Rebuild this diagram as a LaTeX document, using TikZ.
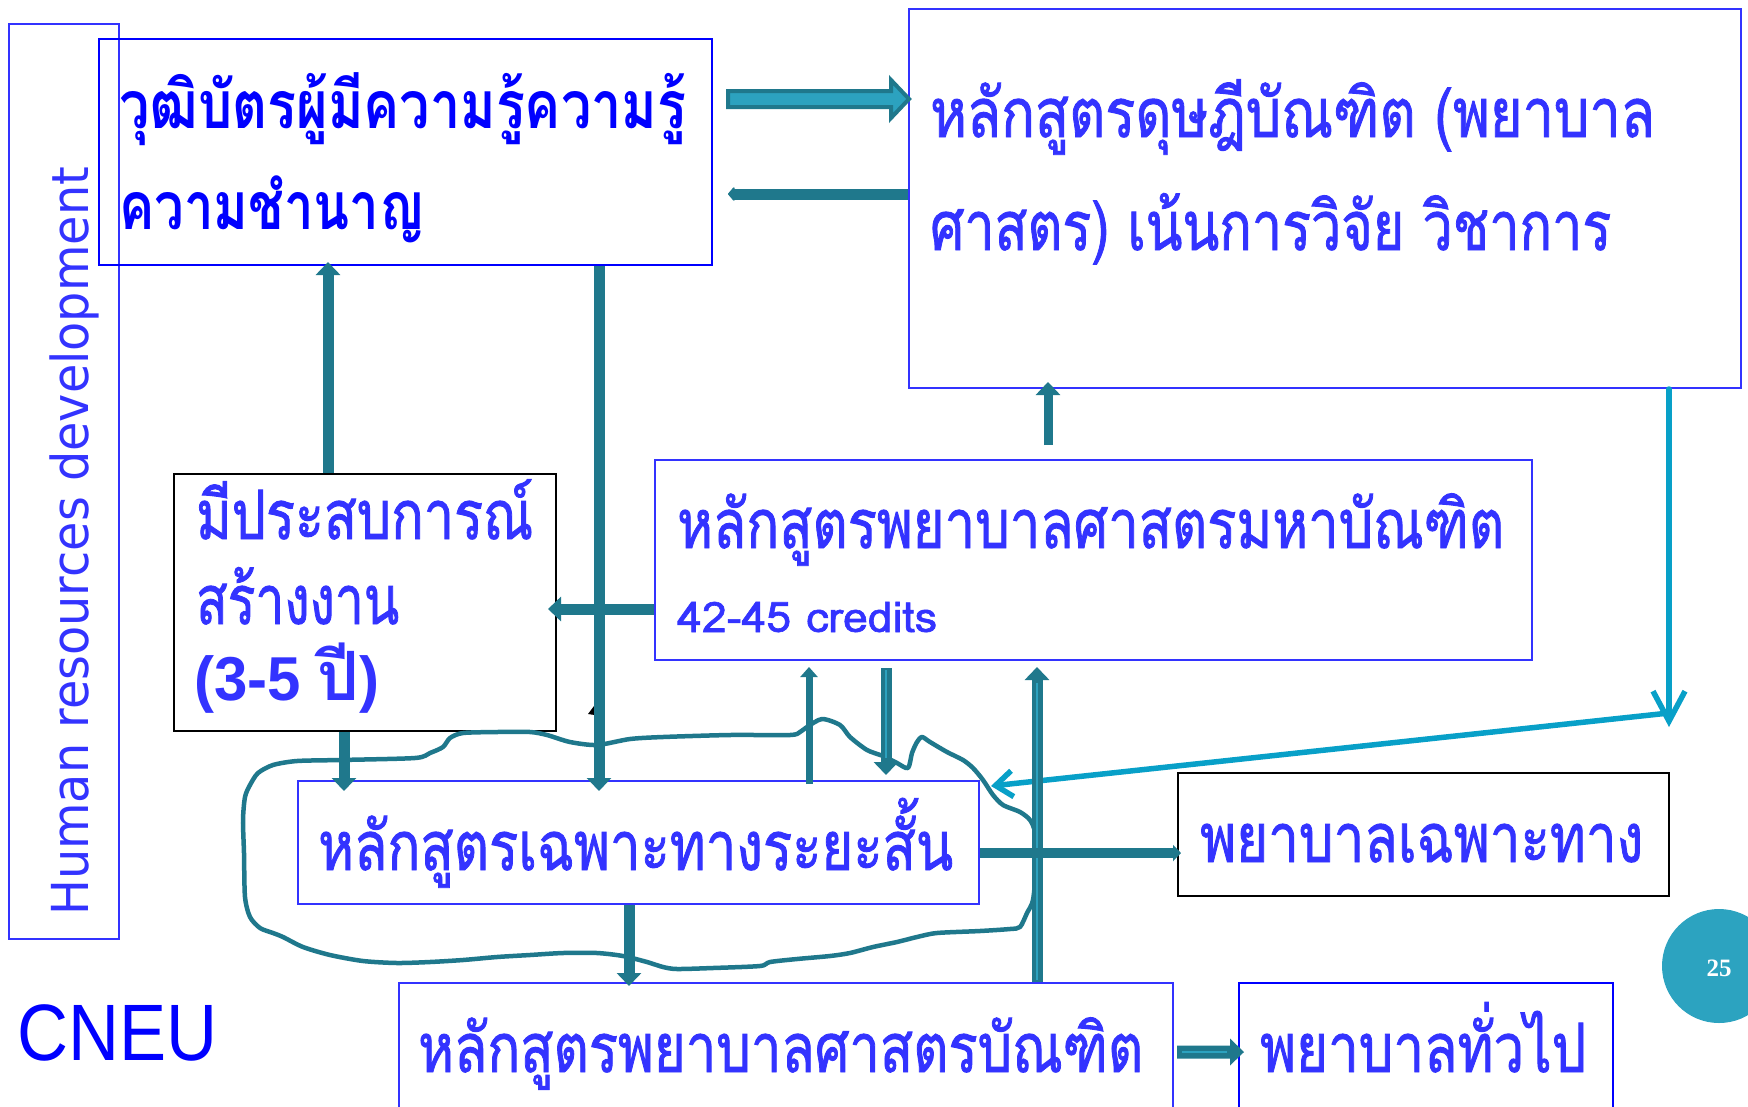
\documentclass[tikz,border=0pt]{standalone}
\usepackage{fontspec}
\usepackage{graphicx}
\usetikzlibrary{arrows.meta,calc}
\newfontfamily\thai[Script=Thai]{Loma}
\newfontfamily\thaim[Script=Thai,FakeBold=1.4]{Loma}
\newfontfamily\dvs{DejaVu Sans}
\newfontfamily\lsans{Liberation Sans}
\newfontfamily\lserif{Liberation Serif}
\definecolor{teal1}{RGB}{31,120,140}
\definecolor{teal2}{RGB}{44,162,191}
\definecolor{cyan1}{RGB}{8,160,200}
\definecolor{tblue}{RGB}{51,51,255}
\definecolor{pblue}{RGB}{0,0,255}
\definecolor{circ}{RGB}{44,163,192}
\newcommand\fw[2]{\resizebox{#1pt}{\height}{#2}}
\begin{document}
\begin{tikzpicture}[x=1pt,y=-1pt,
  box/.style={draw=tblue, line width=2, inner sep=0, rectangle},
  bbox/.style={draw=black, line width=2, inner sep=0, rectangle},
  thaitxt/.style={anchor=base west, inner sep=0, text=tblue, font=\thaim\fontsize{68}{80}\selectfont},
  tarrow/.style={draw=teal1, line width=11, -{Triangle[width=24,length=13]}},
  tthin/.style={draw=teal1, line width=7, -{Triangle[width=17,length=10]}},
  cyanarr/.style={draw=cyan1, line width=5.5, line cap=round, -{Straight Barb[length=30,width=32,line width=5.5]}},
  stripe/.style={draw=teal2, line width=2.5}
]
\useasboundingbox (0,0) rectangle (1748,1106);
\fill[white] (0,0) rectangle (1748,1106);

% boxes
\node[box, minimum width=110, minimum height=915] (L) at (64,481.5) {};
\node[box, draw=pblue, minimum width=613, minimum height=226] (A) at (405.5,152) {};
\node[box, minimum width=832, minimum height=379] (B) at (1325,198.5) {};
\node[bbox, minimum width=382, minimum height=257] (C) at (365,602.5) {};
\node[box, minimum width=877, minimum height=200] (D) at (1093.5,560) {};
\node[box, minimum width=681, minimum height=123] (E) at (638.5,842.5) {};
\node[bbox, minimum width=491, minimum height=123] (F) at (1423.5,834.5) {};
\node[box, minimum width=774, minimum height=142] (G) at (786,1054) {};
\node[box, draw=pblue, minimum width=374, minimum height=142] (H) at (1426,1054) {};

% texts
\node[anchor=base west, inner sep=0, text=tblue, rotate=90, font=\dvs\fontsize{51}{60}\selectfont] (tL) at (88,916) {\fw{749}{Human resources development}};
\node[thaitxt, text=pblue, font=\thai\bfseries\fontsize{66}{78}\selectfont] (tA1) at (119,128) {\fw{567}{วุฒิบัตรผู้มีความรู้ความรู้}};
\node[thaitxt, text=pblue, font=\thai\bfseries\fontsize{66}{78}\selectfont] (tA2) at (119,229) {\fw{305}{ความชำนาญ}};
\node[thaitxt] (tB1) at (930,137) {\fw{725}{หลักสูตรดุษฎีบัณฑิต (พยาบาล}};
\node[thaitxt] (tB2) at (930,250) {\fw{681}{ศาสตร) เน้นการวิจัย วิชาการ}};
\node[thaitxt] (tC1) at (196,539) {\fw{337}{มีประสบการณ์}};
\node[thaitxt] (tC2) at (196,624) {\fw{203}{สร้างงาน}};
\node[thaitxt] (tC3) at (194,700) {\fw{185}{{\lsans\bfseries\fontsize{62}{72}\selectfont(3-5 }{\thai\bfseries ปี}{\lsans\bfseries\fontsize{62}{72}\selectfont)}}};
\node[thaitxt, font=\thaim\fontsize{42}{50}\selectfont] (tD2) at (677,632) {\fw{260}{42-45 credits}};
\node[thaitxt] (tD1) at (677,548) {\fw{827}{หลักสูตรพยาบาลศาสตรมหาบัณฑิต}};
\node[thaitxt] (tE) at (318,870) {\fw{635}{หลักสูตรเฉพาะทางระยะสั้น}};
\node[thaitxt] (tF) at (1200,862) {\fw{443}{พยาบาลเฉพาะทาง}};
\node[thaitxt] (tG) at (418,1072) {\fw{725}{หลักสูตรพยาบาลศาสตรบัณฑิต}};
\node[thaitxt] (tH) at (1260,1072) {\fw{326}{พยาบาลทั่วไป}};
\node[anchor=base west, inner sep=0, text=pblue, font=\lsans\fontsize{80}{92}\selectfont] (cneu) at (17,1060) {\fw{200}{CNEU}};
\fill[circ] (1719,966) circle (57);
\node[text=white, font=\lserif\bfseries\fontsize{25}{30}\selectfont, inner sep=0] (pg) at (1719,968) {25};

% freehand loop around the short course box
\draw[teal1, line width=4.5, line join=round] plot[smooth cycle, tension=0.45] coordinates {(273,765) (297,761) (340,760) (415,758) (430,753) (443,747) (450,738) (463,733) (497,732) (530,732) (547,735) (570,742) (597,745) (630,739) (663,737) (730,735) (790,735) (800,732) (807,727) (822,719) (840,725) (850,737) (867,750) (883,756) (897,763) (908,768) (912,753) (917,742) (922,737) (930,742) (947,752) (963,760) (973,768) (983,780) (993,795) (1003,805) (1020,812) (1030,820) (1035,833) (1036,867) (1033,900) (1027,913) (1020,927) (1010,929) (980,931) (937,933) (917,937) (897,942) (873,947) (850,953) (830,956) (797,959) (770,962) (760,966) (713,968) (677,969) (663,967) (647,962) (623,956) (597,953) (563,953) (530,955) (497,957) (463,960) (430,962) (397,963) (363,961) (330,955) (303,947) (283,937) (273,933) (260,928) (250,917) (245,897) (244,853) (243,820) (245,797) (250,785) (258,773)};

% helper coordinates
\coordinate (yAB) at (0,99);
\coordinate (yBA) at (0,194);
\coordinate (xCA) at (328,0);
\coordinate (xAE) at (599,0);
\coordinate (yDC) at (0,609);
\coordinate (xDB) at (1048,0);
\coordinate (xCY) at (1669,0);
\coordinate (yCY) at (0,713);
\coordinate (xCE) at (344,0);
\coordinate (xED) at (809,0);
\coordinate (xDE) at (886,0);
\coordinate (xGD) at (1037,0);
\coordinate (yEF) at (0,853);
\coordinate (xEG) at (629,0);
\coordinate (yGH) at (0,1052);

% tiny black tip
\fill[black] (588,714) -- (597,702) -- (601,716) -- cycle;

% A -> B block arrow
\coordinate (ab) at ($(A.east |- yAB)+(15,0)$);
\filldraw[draw=teal1, fill=teal2, line width=4, line join=miter] (ab) ++(0,-8) -- ++(163,0) -- ++(0,-11) -- ++(18,19) -- ++(-18,19) -- ++(0,-11) -- ++(-163,0) -- cycle;
% B -> A
\draw[draw=teal1, line width=11, -{Triangle[width=16,length=7,round]}] (B.west |- yBA) -- ($(A.east |- yBA)+(15,0)$);
% C -> A
\draw[tarrow, shorten >=-4] (C.north -| xCA) -- (A.south -| xCA);
% A -> E
\draw[tarrow, shorten >=-11] (A.south -| xAE) -- (E.north -| xAE);
% D -> C
\draw[tarrow, shorten >=-9] (D.west |- yDC) -- (C.east |- yDC);
% D -> B
\draw[tarrow, line width=9, shorten <=14, shorten >=-7] (D.north -| xDB) -- (B.south -| xDB);
% cyan
\draw[cyanarr] (B.south -| xCY) -- ($(xCY |- yCY)+(0,14)$);
\draw[cyanarr, -{Straight Barb[length=17,width=26,line width=5.5]}] (xCY |- yCY) -- ($(E.north east)+(11,6)$);
% C -> E
\draw[tarrow, shorten >=-11] (C.south -| xCE) -- (E.north -| xCE);
% E -> D
\draw[tthin, shorten <=-4, shorten >=6] (E.north -| xED) -- (D.south -| xED);
% D -> E
\draw[tarrow, shorten <=7, shorten >=5] (D.south -| xDE) -- (E.north -| xDE);
\draw[stripe] ($(D.south -| xDE)+(0,9)$) -- ($(E.north -| xDE)+(0,-22)$);
% G -> D
\draw[tarrow, shorten >=6] (G.north -| xGD) -- (D.south -| xGD);
\draw[stripe] ($(G.north -| xGD)+(0,-2)$) -- ($(D.south -| xGD)+(0,22)$);
% E -> F
\draw[draw=teal1, line width=10, -{Triangle[width=16,length=8]}, shorten >=-4] (E.east |- yEF) -- (F.west |- yEF);
% E -> G
\draw[tarrow, shorten >=-4] (E.south -| xEG) -- (G.north -| xEG);
% G -> H block arrow
\coordinate (gh) at ($(G.east |- yGH)+(3,0)$);
\fill[teal1] (gh) ++(0,-6.5) -- ++(53,0) -- ++(0,-7) -- ++(14,13.5) -- ++(-14,13.5) -- ++(0,-7) -- ++(-53,0) -- cycle;
\draw[stripe] ($(gh)+(5,0)$) -- ++(45,0);
\end{tikzpicture}
\end{document}
